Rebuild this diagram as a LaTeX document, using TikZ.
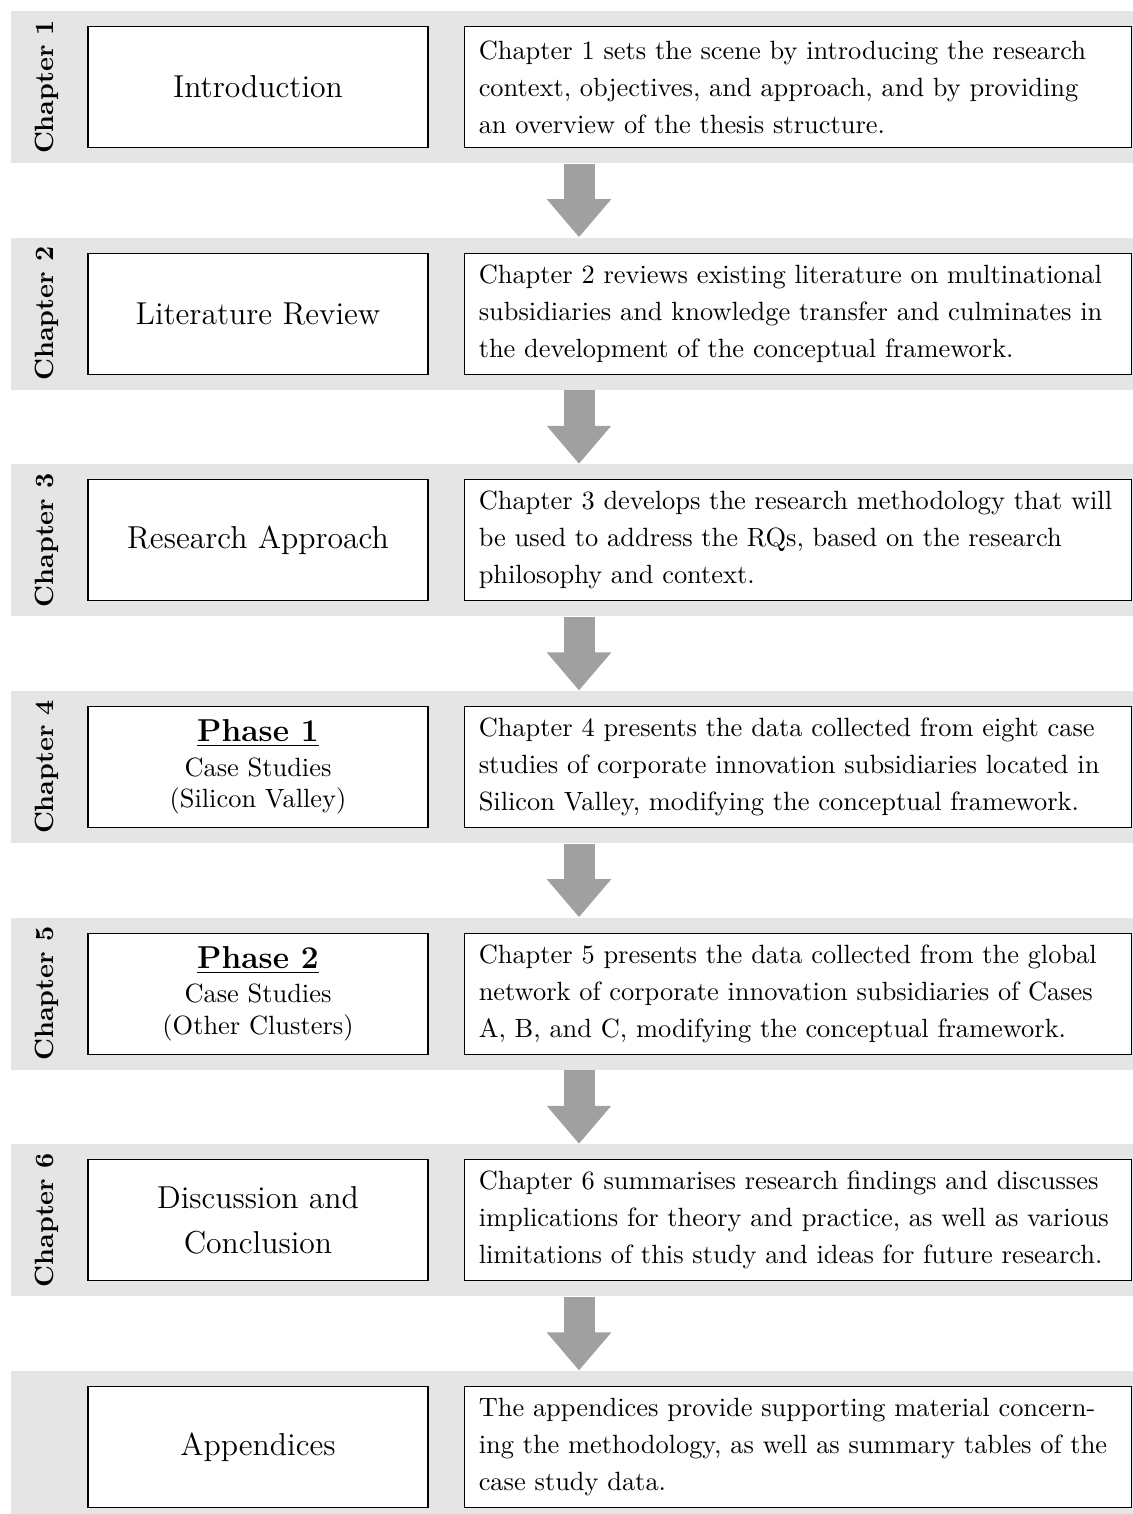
\documentclass[tikz,border=0pt]{standalone}
\usetikzlibrary{arrows.meta}
\definecolor{bandgray}{RGB}{229,229,229}
\definecolor{flowgray}{RGB}{160,160,160}
\begin{document}
\begin{tikzpicture}[x=0.3788pt,y=-0.3788pt,
  band/.style={fill=bandgray, draw=none, minimum width=430.3pt, minimum height=57.58pt, inner sep=0pt},
  titlebox/.style={draw=black, line width=0.4pt, fill=white, minimum width=128.8pt, minimum height=45.8pt,
    inner sep=2pt, align=center, font=\fontsize{12}{17}\selectfont},
  phasebox/.style={titlebox, font=\fontsize{10}{12}\selectfont},
  descbox/.style={draw=black, line width=0.4pt, fill=white, minimum width=252.3pt, minimum height=45.8pt,
    text width=8.5cm, inner xsep=5.3pt, inner ysep=2pt, align=left, font=\fontsize{10}{14}\selectfont},
  chaplabel/.style={rotate=90, inner sep=0pt, font=\fontsize{10}{12}\selectfont\bfseries},
  flow/.style={draw=flowgray, line width=11.74pt, -{Triangle[width=23.5pt,length=14.4pt]}},
]
\useasboundingbox (0,0) rectangle (1132,1514);

% column positions
\coordinate (cx) at (47,0);
\coordinate (lx) at (258,0);
\coordinate (rx) at (798,0);
\coordinate (ax) at (579,0);

% grey bands, one per chapter
\node[band] (b1) at (579,87) {};
\node[band] (b2) at (579,313.7) {};
\node[band] (b3) at (579,540.3) {};
\node[band] (b4) at (579,767) {};
\node[band] (b5) at (579,993.7) {};
\node[band] (b6) at (579,1220.3) {};
\node[band] (b7) at (579,1447) {};

% chapter labels
\node[chaplabel] (c1) at (b1.center -| cx) {Chapter 1};
\node[chaplabel] (c2) at (b2.center -| cx) {Chapter 2};
\node[chaplabel] (c3) at (b3.center -| cx) {Chapter 3};
\node[chaplabel] (c4) at (b4.center -| cx) {Chapter 4};
\node[chaplabel] (c5) at (b5.center -| cx) {Chapter 5};
\node[chaplabel] (c6) at (b6.center -| cx) {Chapter 6};

% chapter titles
\node[titlebox] (t1) at (b1.center -| lx) {Introduction};
\node[titlebox] (t2) at (b2.center -| lx) {Literature Review};
\node[titlebox] (t3) at (b3.center -| lx) {Research Approach};
\node[phasebox] (t4) at (b4.center -| lx) {{\fontsize{12}{14}\selectfont\bfseries\underline{Phase 1}}\\[1pt]Case Studies\\(Silicon Valley)};
\node[phasebox] (t5) at (b5.center -| lx) {{\fontsize{12}{14}\selectfont\bfseries\underline{Phase 2}}\\[1pt]Case Studies\\(Other Clusters)};
\node[titlebox] (t6) at (b6.center -| lx) {Discussion and\\Conclusion};
\node[titlebox] (t7) at (b7.center -| lx) {Appendices};

% chapter summaries
\node[descbox] (d1) at (b1.center -| rx) {Chapter 1 sets the scene by introducing the research\linebreak context, objectives, and approach, and by providing\linebreak an overview of the thesis structure.};
\node[descbox] (d2) at (b2.center -| rx) {Chapter 2 reviews existing literature on multinational subsidiaries and knowledge transfer and culminates in the development of the conceptual framework.};
\node[descbox] (d3) at (b3.center -| rx) {Chapter 3 develops the research methodology that will\linebreak be used to address the RQs, based on the research\linebreak philosophy and context.};
\node[descbox] (d4) at (b4.center -| rx) {Chapter 4 presents the data collected from eight case studies of corporate innovation subsidiaries located in Silicon Valley, modifying the conceptual framework.};
\node[descbox] (d5) at (b5.center -| rx) {Chapter 5 presents the data collected from the global network of corporate innovation subsidiaries of Cases A, B, and C, modifying the conceptual framework.};
\node[descbox] (d6) at (b6.center -| rx) {Chapter 6 summarises research findings and discusses implications for theory and practice, as well as various limitations of this study and ideas for future research.};
\node[descbox] (d7) at (b7.center -| rx) {The appendices provide supporting material concerning the methodology, as well as summary tables of the case study data.};

% flow arrows between bands
\draw[flow] (b1.south -| ax) -- (b2.north -| ax);
\draw[flow] (b2.south -| ax) -- (b3.north -| ax);
\draw[flow] (b3.south -| ax) -- (b4.north -| ax);
\draw[flow] (b4.south -| ax) -- (b5.north -| ax);
\draw[flow] (b5.south -| ax) -- (b6.north -| ax);
\draw[flow] (b6.south -| ax) -- (b7.north -| ax);
\end{tikzpicture}
\end{document}
